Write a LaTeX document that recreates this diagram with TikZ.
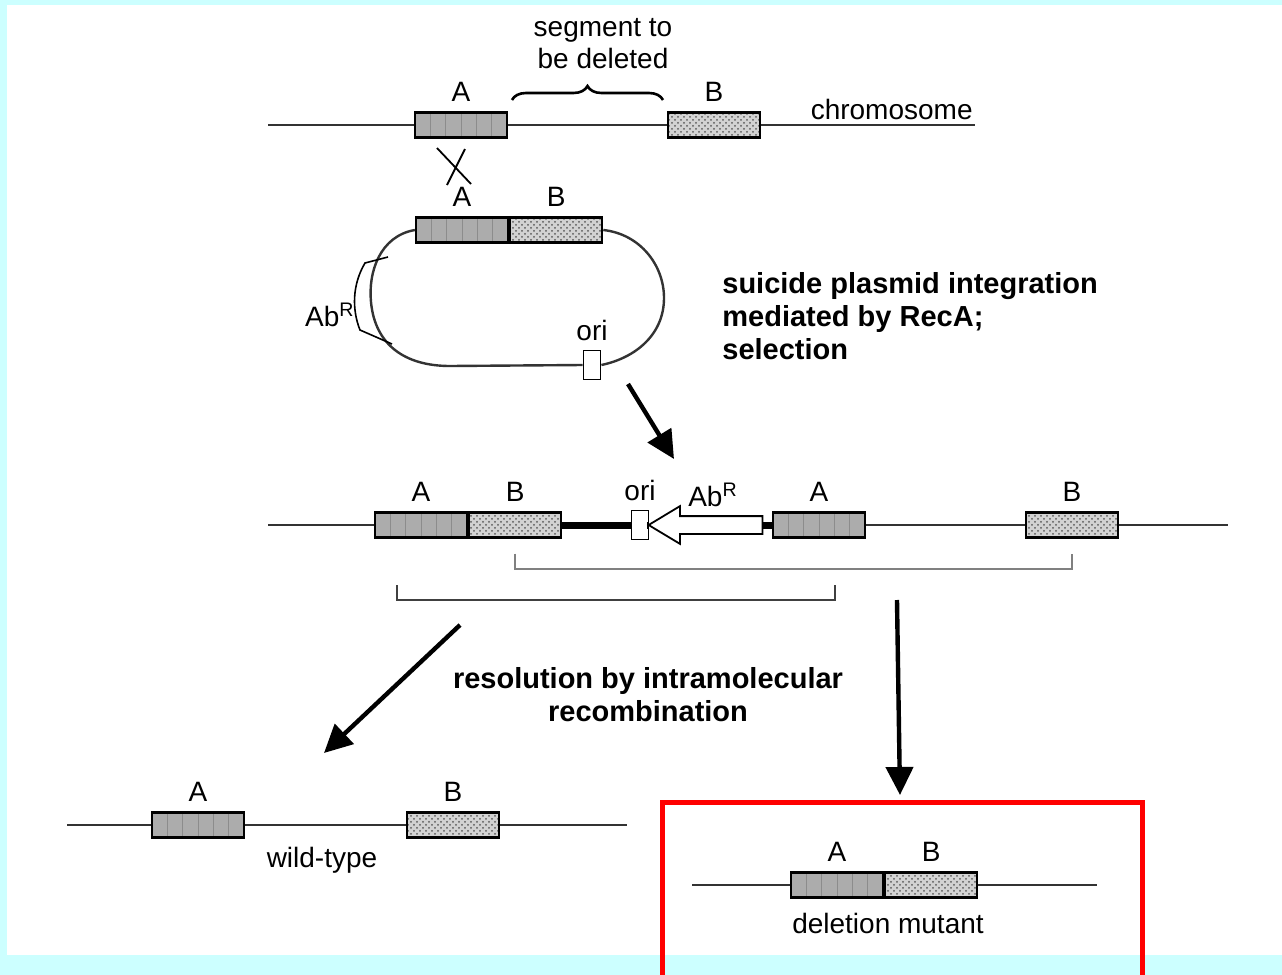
\documentclass[tikz,border=0pt]{standalone}
\usepackage{fontspec}
\setmainfont{Liberation Sans}
\usetikzlibrary{calc,positioning,patterns,arrows.meta,shapes.arrows,decorations.pathreplacing}

\definecolor{bgcyan}{RGB}{204,255,255}

\tikzset{
  dna/.style={line width=1.2pt, black!80},
  vector/.style={line width=3.5pt},
  lab/.style={font=\fontsize{14}{16}\selectfont, inner sep=1pt},
  note/.style={font=\bfseries\fontsize{14.5}{16.5}\selectfont, align=left, inner sep=0pt},
  geneA/.style={draw, line width=1.1pt, fill=gray!65, minimum width=46pt,
    minimum height=12.5pt, inner sep=0pt,
    path picture={\foreach \k in {1,...,5}
      \draw[black!45, line width=0.5pt]
        ($(path picture bounding box.north west)!\k/6!(path picture bounding box.north east)$) --
        ($(path picture bounding box.south west)!\k/6!(path picture bounding box.south east)$);}},
  geneB/.style={draw, line width=1.1pt, minimum width=46pt, minimum height=12.5pt,
    inner sep=0pt, preaction={fill=gray!35}, pattern=crosshatch dots, pattern color=black!65},
  oribox/.style={draw, line width=0.9pt, fill=white, minimum width=8.5pt,
    minimum height=14.5pt, inner sep=0pt},
  bigarrow/.style={line width=2.2pt, -{Triangle[length=14pt,width=13.5pt]}},
  brk/.style={line width=0.9pt},
}

\begin{document}
\begin{tikzpicture}[x=0.5pt,y=-0.5pt]
\useasboundingbox (0,0) rectangle (1282,975);
\fill[bgcyan] (0,0) rectangle (1282,975);
\fill[white] (7,5) rectangle (1282,955);

% chromosome before integration
\node[geneA] (a1) at (461,125) {};
\node[geneB] (b1) at (714,125) {};
\coordinate (c1l) at (268,125);
\coordinate (c1r) at (975,125);
\draw[dna] (c1l) -- (a1) (a1) -- (b1) (b1) -- (c1r);
\node[lab, above=4pt of a1] (la1) {A};
\node[lab, above=4pt of b1] (lb1) {B};
\node[lab, anchor=south east] (chr) at (975,122) {chromosome};
\draw[line width=1.3pt, decorate, decoration={brace, amplitude=7pt}] (512,100) -- (663,100);
\node[lab, align=center] (seg) at (603,44) {segment to\\be deleted};

% crossover
\draw[line width=0.9pt] (437,148) -- (471,184) (465,149) -- (447,185);

% suicide plasmid
\node[geneA] (a2) at (462,230) {};
\node[geneB, right=0pt of a2] (b2) {};
\node[oribox] (ori1) at (592,365) {};
\draw[dna] (a2.west) .. controls (380,236) and (368,272) .. (371,302)
  .. controls (375,345) and (405,366) .. (450,366) -- (ori1.west);
\draw[dna] (b2.east) .. controls (640,234) and (664,265) .. (664,298)
  .. controls (664,335) and (635,358) .. (ori1.east);
\node[lab, above=4pt of a2] (la2) {A};
\node[lab, above=4pt of b2] (lb2) {B};
\node[lab, above=3pt of ori1] (lo1) {ori};
\draw[line width=0.8pt] (388,257) -- (365,263) .. controls (352,285) and (352,310) .. (360,330) -- (392,344);
\node[lab, anchor=east] (labr1) at (357,315) {Ab\textsuperscript{R}};

\node[note, anchor=west] (step1) at (722,316) {suicide plasmid integration\\mediated by RecA;\\selection};
\coordinate (p1s) at (628,384);
\coordinate (p1e) at (674,459);
\draw[bigarrow] (p1s) -- (p1e);

% cointegrate
\node[geneA] (a3) at (421,525) {};
\node[geneB, right=0pt of a3] (b3) {};
\node[oribox] (ori2) at (640,525) {};
\node[single arrow, draw, line width=0.9pt, fill=white, shape border rotate=180,
  minimum height=57pt, inner xsep=0pt, inner ysep=4pt, single arrow head extend=5pt,
  single arrow tip angle=62] (abr) at (713,525) {};
\node[geneA] (a4) at (819,525) {};
\node[geneB] (b4) at (1072,525) {};
\coordinate (c3l) at (268,525);
\coordinate (c3r) at (1228,525);
\draw[dna] (c3l) -- (a3) (a4) -- (b4) (b4) -- (c3r);
\draw[vector] (b3.east) -- (ori2.west) (ori2.east) -- (abr.tip) (abr.tail) -- (a4.west);
\node[lab, above=4pt of a3] (la3) {A};
\node[lab, above=4pt of b3] (lb3) {B};
\node[lab, above=3pt of ori2] (lo2) {ori};
\node[lab, above=3pt of abr] (labr2) {Ab\textsuperscript{R}};
\node[lab, above=4pt of a4] (la4) {A};
\node[lab, above=4pt of b4] (lb4) {B};

% recombination spans
\draw[brk, gray] ($(b3.south)+(0,15)$) -- ++(0,15) -| ($(b4.south)+(0,15)$);
\draw[brk, black!75] (397,585) -- (397,600) -- (835,600) -- (835,585);

\node[note, align=center] (step2) at (648,695) {resolution by intramolecular\\recombination};
\coordinate (p2s) at (460,625);
\coordinate (p2e) at (324,753);
\draw[bigarrow] (p2s) -- (p2e);
\coordinate (p3s) at (897,600);
\coordinate (p3e) at (900,795);
\draw[bigarrow] (p3s) -- (p3e);

% wild-type
\node[geneA] (a5) at (198,825) {};
\node[geneB] (b5) at (453,825) {};
\coordinate (c5l) at (67,825);
\coordinate (c5r) at (627,825);
\draw[dna] (c5l) -- (a5) (a5) -- (b5) (b5) -- (c5r);
\node[lab, above=4pt of a5] (la5) {A};
\node[lab, above=4pt of b5] (lb5) {B};
\node[lab] (wt) at (322,860) {wild-type};

% deletion mutant
\node[geneA] (a6) at (837,885) {};
\node[geneB, right=0pt of a6] (b6) {};
\coordinate (c6l) at (692,885);
\coordinate (c6r) at (1097,885);
\draw[dna] (c6l) -- (a6) (b6) -- (c6r);
\node[lab, above=4pt of a6] (la6) {A};
\node[lab, above=4pt of b6] (lb6) {B};
\node[lab] (dm) at (888,923) {deletion mutant};

\draw[red, line width=2.7pt] (662.5,975) -- (662.5,802.5) -- (1142.5,802.5) -- (1142.5,975);
\end{tikzpicture}
\end{document}
